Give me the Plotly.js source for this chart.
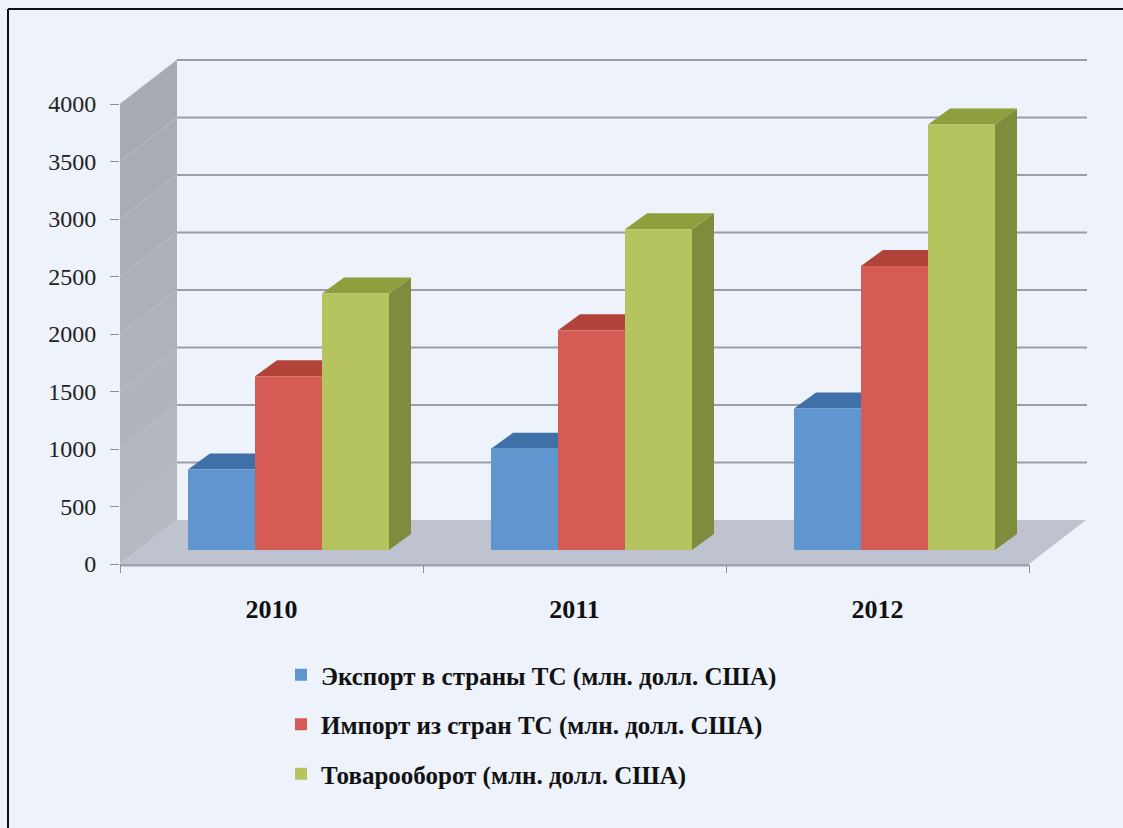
<!DOCTYPE html>
<html><head><meta charset="utf-8">
<script src="https://cdn.plot.ly/plotly-3.0.1.min.js"></script>
<style>html,body{margin:0;padding:0;background:#edf2fb}</style></head>
<body><div id="chart" style="width:1123px;height:828px"></div>
<script>
const years = ['2010','2011','2012'];
const exportVals = [700, 880, 1230];
const importVals = [1510, 1910, 2470];
const turnoverVals = [2230, 2790, 3700];
const seriesNames = ['Экспорт в страны ТС (млн. долл. США)','Импорт из стран ТС (млн. долл. США)','Товарооборот (млн. долл. США)'];
const frontColors = ['#6096cf','#d55c54','#b5c45e'];
const topColors = ['#3f70a8','#b2433b','#8f9f3d'];
const sideColors = ['#3a6698','#a13c35','#7f8c3d'];
const yTicks = [0,500,1000,1500,2000,2500,3000,3500,4000];
const wallShades = ['#b6b9c0','#b4b7be','#b1b4bb','#afb2b9','#adb0b7','#abaeb5','#a9acb4','#a7aab2'];

const W=1123,H=828,L=120,T=50,B=564,R=1087;
const pxPerCat=303, pxPerVal=0.115;
const xu=p=>p/pxPerCat, yu=p=>p/pxPerVal;
const xMax=xu(R-L), yMax=yu(B-T);
const wallDx=xu(57), wallDy=yu(44);
const barBase=yu(14), barDx=xu(22), barDy=yu(16);
const barW=xu(67), groupShift=xu(17);
const all=[exportVals,importVals,turnoverVals];

const poly=(pts,fill,extra={})=>Object.assign({type:'path',xref:'x',yref:'y',layer:'below',
  path:'M'+pts.map(p=>p.join(',')).join(' L')+' Z',fillcolor:fill,line:{width:0}},extra);
const seg=(x0,y0,x1,y1,c,w)=>({type:'line',xref:'x',yref:'y',layer:'below',x0,y0,x1,y1,line:{color:c,width:w}});

const shapes=[];
const frameTop=(B-9)/(B-T), frameLeft=-112/(R-L);
shapes.push({type:'line',xref:'paper',yref:'paper',x0:frameLeft,x1:1.04,y0:frameTop,y1:frameTop,line:{color:'#111',width:2}});
shapes.push({type:'line',xref:'paper',yref:'paper',x0:frameLeft,x1:frameLeft,y0:frameTop,y1:(B-828)/(B-T),line:{color:'#111',width:2}});
// left wall bands, floor
yTicks.slice(0,-1).forEach((v,k)=>{
  const n=yTicks[k+1];
  shapes.push(poly([[0,v],[wallDx,v+wallDy],[wallDx,n+wallDy],[0,n]],wallShades[k]));
});
shapes.push(poly([[0,0],[3,0],[3+wallDx,wallDy],[wallDx,wallDy]],'#bfc3cf'));
yTicks.forEach(v=>{
  if(v>0) shapes.push(seg(0,v,wallDx,v+wallDy,'#b9bcc3',1));
  if(v>0) shapes.push(seg(wallDx,v+wallDy,xMax,v+wallDy,'#9a9eaa',2));
});
years.forEach((_,i)=>{
  all.forEach((vals,s)=>{
    const x0=i+0.5+groupShift+(s-1.5)*barW, x1=x0+barW;
    const top=vals[i]+barBase;
    shapes.push(poly([[x1,barBase],[x1+barDx,barBase+barDy],[x1+barDx,top+barDy],[x1,top]],sideColors[s]));
    shapes.push(poly([[x0,top],[x0+barDx,top+barDy],[x1+barDx,top+barDy],[x1,top]],topColors[s]));
  });
});
// thick front edge of the floor
shapes.push({type:'line',xref:'x',yref:'paper',layer:'below',x0:0,x1:3,y0:-1/(B-T),y1:-1/(B-T),line:{color:'#a0a3ad',width:3}});

const traces=all.map((vals,s)=>({
  type:'bar',name:seriesNames[s],legendgroup:'g'+s,
  x:years.map((_,i)=>i+0.5+groupShift),y:vals,base:years.map(()=>barBase),
  marker:{color:frontColors[s],line:{width:0}},hoverinfo:'y'
}));

const layout={
  width:W,height:H,margin:{l:L,r:W-R,t:T,b:H-B,pad:0},
  paper_bgcolor:'#edf2fb',plot_bgcolor:'rgba(0,0,0,0)',
  barmode:'group',bargap:1-3*barW,bargroupgap:0,shapes,showlegend:true,
  font:{family:'"Liberation Serif",serif',color:'#1c1c1c'},
  xaxis:{range:[0,xMax],tickvals:[0.5,1.5,2.5],ticktext:years,ticks:'',showgrid:false,zeroline:false,
    showline:false,ticklabelstandoff:27,tickfont:{size:26,family:'"Liberation Serif",serif',color:'#111',weight:'bold'},
    minor:{tickvals:[0,1,2,3],ticks:'outside',ticklen:8,tickwidth:1,tickcolor:'#8d9099',showgrid:false}},
  yaxis:{range:[0,yMax],tickvals:yTicks,ticks:'outside',ticklen:9,tickwidth:1,tickcolor:'#8d9099',showgrid:false,zeroline:false,
    showline:false,ticklabelstandoff:9,tickfont:{size:24,family:'"Liberation Serif",serif',color:'#222'}},
  legend:{x:(281-L)/(R-L),y:(B-652)/(B-T),xanchor:'left',yanchor:'top',traceorder:'grouped',tracegroupgap:14,
    bgcolor:'rgba(0,0,0,0)',font:{size:25,family:'"Liberation Serif",serif',color:'#111',weight:'bold'},itemclick:false,itemdoubleclick:false}
};
Plotly.newPlot('chart',traces,layout,{displayModeBar:false,staticPlot:true});
</script></body></html>
